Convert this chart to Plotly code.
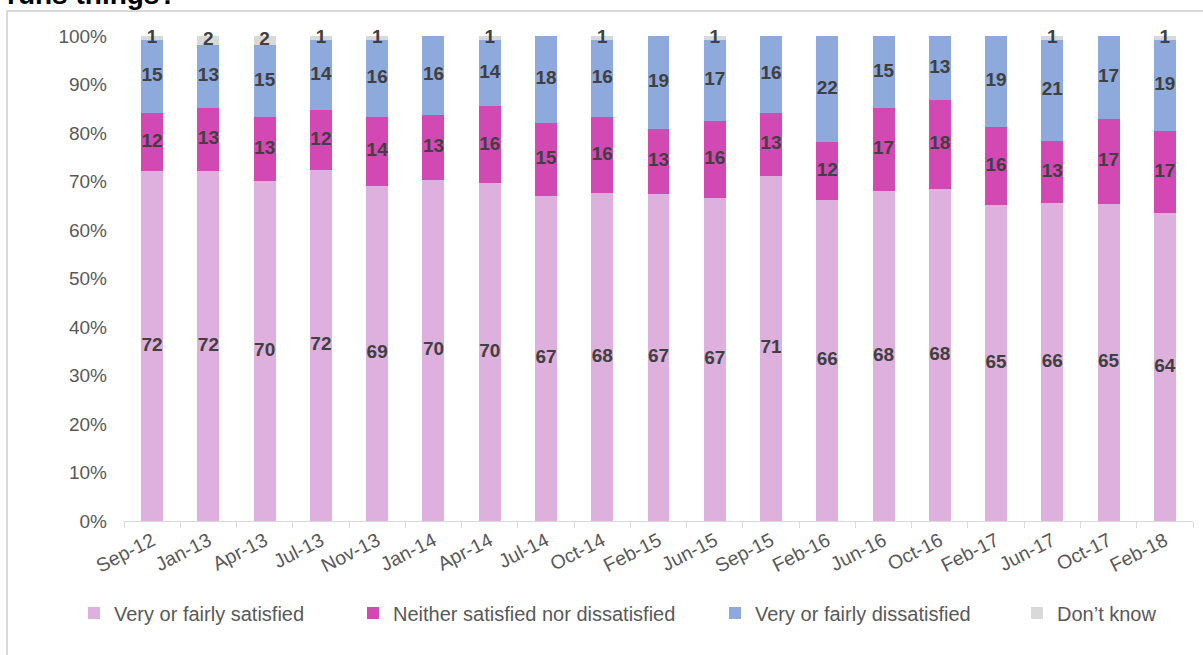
import plotly.graph_objects as go

categories = ["Sep-12", "Jan-13", "Apr-13", "Jul-13", "Nov-13", "Jan-14", "Apr-14",
              "Jul-14", "Oct-14", "Feb-15", "Jun-15", "Sep-15", "Feb-16", "Jun-16",
              "Oct-16", "Feb-17", "Jun-17", "Oct-17", "Feb-18"]
satisfied = [72.2, 72.2, 70.1, 72.4, 69.1, 70.4, 69.6, 67.1, 67.6, 67.4, 66.6, 71.1,
             66.1, 68.0, 68.4, 65.1, 65.6, 65.4, 63.6]
neither = [11.9, 13.0, 13.1, 12.4, 14.1, 13.4, 15.9, 15.0, 15.7, 13.4, 15.8, 13.0,
           12.0, 17.2, 18.4, 16.1, 12.8, 17.4, 16.8]
dissatisfied = [15.1, 12.9, 14.9, 14.4, 16.0, 16.2, 13.7, 17.9, 15.9, 19.2, 16.8, 15.9,
                21.9, 14.8, 13.2, 18.8, 20.8, 17.2, 18.8]
dont_know = [0.8, 1.9, 1.9, 0.8, 0.8, 0, 0.8, 0, 0.8, 0, 0.8, 0,
             0, 0, 0, 0, 0.8, 0, 0.8]

series_names = ["Very or fairly satisfied", "Neither satisfied nor dissatisfied",
                "Very or fairly dissatisfied", "Don\u2019t know"]
series_values = [satisfied, neither, dissatisfied, dont_know]
colors = ["#DDB0DD", "#D249B4", "#8EAADC", "#D9D9D9"]
legend_ids = ["legend", "legend2", "legend3", "legend4"]

W, H = 1203, 655
ML, MR, MT, MB = 124, 10, 36, 134
PW = W - ML - MR
PH = H - MT - MB
FONT = "Liberation Sans, Arial, sans-serif"


def px_to_paper_x(px):
    return (px - ML) / PW


def px_to_paper_y(py):
    return (H - MB - py) / PH


legend_px = [74, 353, 715, 1017]

fig = go.Figure()
for name, vals, col, lg in zip(series_names, series_values, colors, legend_ids):
    fig.add_trace(go.Bar(
        x=categories, y=vals, name=name,
        marker=dict(color=col, line=dict(width=0)),
        hoverinfo="x+y+name",
        legend=lg,
    ))

# segment labels, centred on each stacked segment
base = [0.0] * len(categories)
for vals in series_values:
    mids = [b + v / 2 for b, v in zip(base, vals)]
    fig.add_trace(go.Scatter(
        x=categories, y=mids, mode="text",
        text=[f"{v:.0f}" if v > 0 else "" for v in vals],
        textposition="middle center",
        textfont=dict(family=FONT, size=19, color="#404040", weight="bold"),
        showlegend=False, hoverinfo="skip", cliponaxis=False,
    ))
    base = [b + v for b, v in zip(base, vals)]

layout_legends = {}
for lg, lx in zip(legend_ids, legend_px):
    layout_legends[lg] = dict(
        x=px_to_paper_x(lx), y=px_to_paper_y(613), xanchor="left", yanchor="middle",
        orientation="h", bgcolor="rgba(0,0,0,0)",
        font=dict(family=FONT, size=20, color="#595959"),
        itemwidth=30, tracegroupgap=0,
    )

fig.update_layout(
    width=W, height=H,
    margin=dict(l=ML, r=MR, t=MT, b=MB, autoexpand=False),
    barmode="stack", bargap=0.61,
    plot_bgcolor="white", paper_bgcolor="white",
    font=dict(family=FONT, color="#595959"),
    xaxis=dict(type="category", range=[-0.5, len(categories) - 0.5],
               showline=True, linecolor="#D9D9D9", linewidth=1,
               ticks="outside", tickson="boundaries", tickcolor="#D9D9D9", ticklen=6,
               tickangle=-27, tickfont=dict(size=19.5, color="#595959"), showgrid=False),
    yaxis=dict(range=[0, 100], dtick=10, ticksuffix="%", showgrid=False, zeroline=False,
               showline=False, tickfont=dict(size=19, color="#595959"),
               ticklabelstandoff=16),
    showlegend=True,
    **layout_legends,
)

# chart border (partially visible frame)
fig.add_shape(type="rect", xref="paper", yref="paper",
              x0=px_to_paper_x(7), x1=px_to_paper_x(1215),
              y0=px_to_paper_y(670), y1=px_to_paper_y(11),
              line=dict(color="#D9D9D9", width=2), fillcolor="rgba(0,0,0,0)", layer="below")

# partially visible title
fig.add_annotation(text="<b>runs things?</b>", xref="paper", yref="paper",
                   x=px_to_paper_x(5), y=px_to_paper_y(12), xanchor="left", yanchor="bottom",
                   showarrow=False, font=dict(size=28, color="#000000", family=FONT))

fig.write_html("out.html", config={"displayModeBar": False},
               post_script="document.body.style.margin='0';")
